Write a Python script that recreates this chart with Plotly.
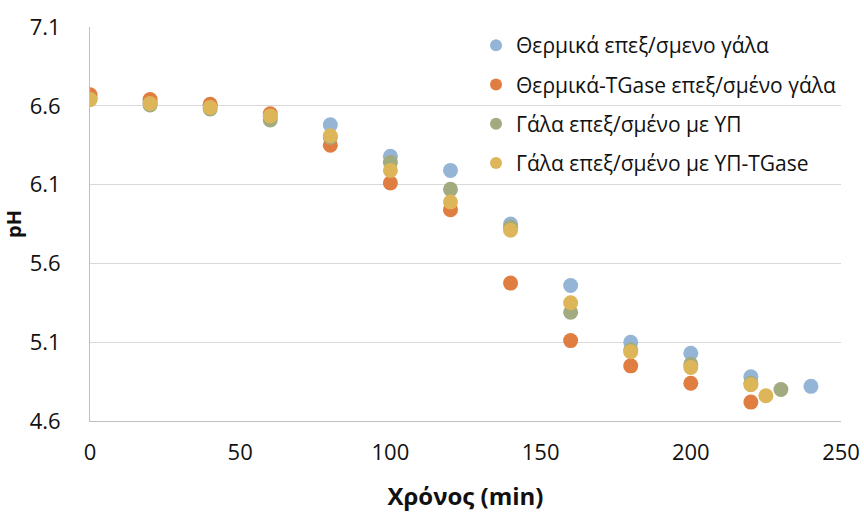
import plotly.graph_objects as go

# Time (min)
t_blue = [0, 20, 40, 60, 80, 100, 120, 140, 160, 180, 200, 220, 240]
ph_blue = [6.65, 6.62, 6.60, 6.53, 6.48, 6.28, 6.19, 5.85, 5.46, 5.10, 5.03, 4.88, 4.82]

t_orange = [0, 20, 40, 60, 80, 100, 120, 140, 160, 180, 200, 220]
ph_orange = [6.67, 6.64, 6.61, 6.55, 6.35, 6.11, 5.94, 5.475, 5.11, 4.95, 4.84, 4.72]

t_green = [0, 20, 40, 60, 80, 100, 120, 140, 160, 180, 200, 220, 230]
ph_green = [6.64, 6.605, 6.58, 6.51, 6.40, 6.24, 6.07, 5.83, 5.29, 5.05, 4.96, 4.84, 4.80]

t_yellow = [0, 20, 40, 60, 80, 100, 120, 140, 160, 180, 200, 220, 225]
ph_yellow = [6.64, 6.615, 6.59, 6.535, 6.41, 6.19, 5.99, 5.81, 5.35, 5.04, 4.94, 4.83, 4.76]

names = ["Θερμικά επεξ/σμενο γάλα", "Θερμικά-TGase επεξ/σμένο γάλα",
         "Γάλα επεξ/σμένο με ΥΠ", "Γάλα επεξ/σμένο με ΥΠ-TGase"]
colors = ["#95b5d6", "#e07d40", "#a2ab7f", "#ddb65a"]

fig = go.Figure()
for i, (x, y) in enumerate([(t_blue, ph_blue), (t_orange, ph_orange),
                            (t_green, ph_green), (t_yellow, ph_yellow)]):
    fig.add_trace(go.Scatter(x=x, y=y, mode="markers", name=names[i],
                             legendgroup=str(i),
                             marker=dict(size=15, color=colors[i])))

font = "'Open Sans', sans-serif"
fig.update_layout(
    width=864, height=512,
    margin=dict(l=90, r=23, t=27, b=91),
    paper_bgcolor="white", plot_bgcolor="white",
    font=dict(family=font, size=22, color="#111111"),
    showlegend=True,
    legend=dict(x=0.514, y=1.005, xanchor="left", yanchor="top",
                bgcolor="rgba(0,0,0,0)", font=dict(size=21, color="#111111"),
                tracegroupgap=9, itemsizing="constant"),
    xaxis=dict(range=[0, 250], dtick=50, tick0=0, showgrid=False,
               showline=True, linecolor="#bfbfbf", linewidth=1,
               ticks="", zeroline=False, ticklabelstandoff=12, automargin=False,
               title=dict(text="<b>Χρόνος (min)</b>", font=dict(size=24), standoff=22)),
    yaxis=dict(range=[4.6, 7.1], dtick=0.5, tick0=4.6, tickformat=".1f",
               showgrid=True, gridcolor="#d9d9d9", gridwidth=1,
               showline=True, linecolor="#bfbfbf", linewidth=1,
               ticks="", zeroline=False, ticklabelstandoff=24, automargin=False,
               title=dict(text="<b>pH</b>", font=dict(size=20), standoff=2)),
)

fig.write_html("out.html")
